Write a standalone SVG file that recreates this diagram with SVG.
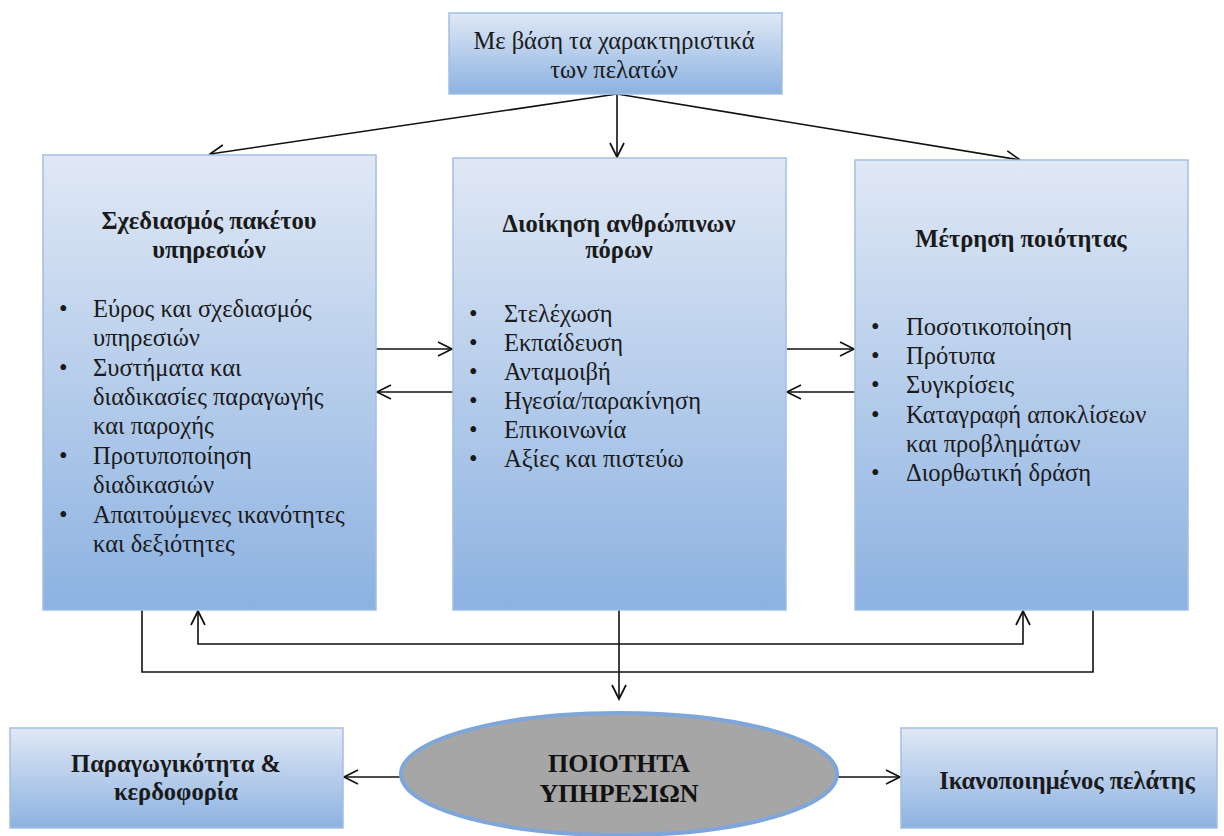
<svg xmlns="http://www.w3.org/2000/svg" width="1224" height="836" viewBox="0 0 1224 836">
  <defs>
    <linearGradient id="boxFill" x1="0" y1="0" x2="0" y2="1">
      <stop offset="0" stop-color="#e0e8f5"/>
      <stop offset="1" stop-color="#8cb2e1"/>
    </linearGradient>
    <marker id="open" markerUnits="userSpaceOnUse" markerWidth="18" markerHeight="18" viewBox="0 0 18 18" refX="15" refY="9" orient="auto-start-reverse">
      <path d="M1,2 L15,9 L1,16" fill="none" stroke="#111" stroke-width="1.7"/>
    </marker>
    <style>
      .box { fill: url(#boxFill); stroke: #a3bfe2; stroke-width: 1.5; }
      .wire { fill: none; stroke: #111; stroke-width: 1.6; }
      .arrow { fill: none; stroke: #111; stroke-width: 1.6; marker-end: url(#open); }
      .txt { font-family: "Liberation Serif", "DejaVu Serif", serif; fill: #1a1a1a; font-size: 24.5px; }
      .head { font-family: "Liberation Serif", "DejaVu Serif", serif; fill: #1a1a1a; font-size: 24.5px; font-weight: bold; text-anchor: middle; }
      .big { font-size: 26px; fill: #111; }
      .mid { text-anchor: middle; }
    </style>
  </defs>

  <rect width="1224" height="836" fill="#ffffff"/>

  <!-- connectors -->
  <g id="connectors">
    <line class="arrow" x1="617" y1="94" x2="210" y2="154"/>
    <line class="arrow" x1="617" y1="94" x2="617" y2="157"/>
    <line class="arrow" x1="617" y1="94" x2="1020" y2="160"/>

    <line class="arrow" x1="376" y1="349" x2="452" y2="349"/>
    <line class="arrow" x1="453" y1="392" x2="377" y2="392"/>
    <line class="arrow" x1="787" y1="349" x2="854" y2="349"/>
    <line class="arrow" x1="855" y1="392" x2="787" y2="392"/>

    <path class="wire" d="M142,610 V672 H1093 V610"/>
    <path class="wire" d="M198,611 V644 H1023 V611" marker-start="url(#open)" marker-end="url(#open)"/>
    <line class="arrow" x1="619" y1="610" x2="619" y2="699"/>

    <line class="arrow" x1="400" y1="777" x2="344" y2="777"/>
    <line class="arrow" x1="838" y1="777" x2="900" y2="777"/>
  </g>

  <!-- customer characteristics -->
  <g id="customers">
    <rect class="box" x="449" y="13" width="333" height="81"/>
    <text class="txt mid" x="614" y="49">Με βάση τα χαρακτηριστικά</text>
    <text class="txt mid" x="614" y="78">των πελατών</text>
  </g>

  <!-- service package design -->
  <g id="service-design">
    <rect class="box" x="43" y="155" width="333" height="455"/>
    <text class="head" x="209" y="229">Σχεδιασμός πακέτου</text>
    <text class="head" x="209" y="258">υπηρεσιών</text>
    <g class="txt">
      <text x="59" y="317">•</text><text x="93" y="317">Εύρος και σχεδιασμός</text>
      <text x="93" y="346">υπηρεσιών</text>
      <text x="59" y="376">•</text><text x="93" y="376">Συστήματα και</text>
      <text x="93" y="405">διαδικασίες παραγωγής</text>
      <text x="93" y="434">και παροχής</text>
      <text x="59" y="464">•</text><text x="93" y="464">Προτυποποίηση</text>
      <text x="93" y="493">διαδικασιών</text>
      <text x="59" y="523">•</text><text x="93" y="523">Απαιτούμενες ικανότητες</text>
      <text x="93" y="552">και δεξιότητες</text>
    </g>
  </g>

  <!-- human resources -->
  <g id="human-resources">
    <rect class="box" x="453" y="158" width="333" height="452"/>
    <text class="head" x="619" y="232">Διοίκηση ανθρώπινων</text>
    <text class="head" x="619" y="258">πόρων</text>
    <g class="txt">
      <text x="469" y="322">•</text><text x="504" y="322">Στελέχωση</text>
      <text x="469" y="351">•</text><text x="504" y="351">Εκπαίδευση</text>
      <text x="469" y="380">•</text><text x="504" y="380">Ανταμοιβή</text>
      <text x="469" y="409">•</text><text x="504" y="409">Ηγεσία/παρακίνηση</text>
      <text x="469" y="438">•</text><text x="504" y="438">Επικοινωνία</text>
      <text x="469" y="467">•</text><text x="504" y="467">Αξίες και πιστεύω</text>
    </g>
  </g>

  <!-- quality measurement -->
  <g id="quality-measurement">
    <rect class="box" x="855" y="160" width="333" height="450"/>
    <text class="head" x="1021" y="247">Μέτρηση ποιότητας</text>
    <g class="txt">
      <text x="871" y="335">•</text><text x="906" y="335">Ποσοτικοποίηση</text>
      <text x="871" y="364">•</text><text x="906" y="364">Πρότυπα</text>
      <text x="871" y="393">•</text><text x="906" y="393">Συγκρίσεις</text>
      <text x="871" y="423">•</text><text x="906" y="423">Καταγραφή αποκλίσεων</text>
      <text x="906" y="452">και προβλημάτων</text>
      <text x="871" y="481">•</text><text x="906" y="481">Διορθωτική δράση</text>
    </g>
  </g>

  <!-- productivity -->
  <g id="productivity">
    <rect class="box" x="10" y="728" width="333" height="100"/>
    <text class="head" x="176" y="772">Παραγωγικότητα &amp;</text>
    <text class="head" x="176" y="800">κερδοφορία</text>
  </g>

  <!-- service quality -->
  <g id="service-quality">
    <ellipse cx="619" cy="774" rx="218" ry="61" fill="#a6a6a6" stroke="#7ea6da" stroke-width="4"/>
    <text class="head big" x="619" y="772">ΠΟΙΟΤΗΤΑ</text>
    <text class="head big" x="619" y="802">ΥΠΗΡΕΣΙΩΝ</text>
  </g>

  <!-- satisfied customer -->
  <g id="satisfied-customer">
    <rect class="box" x="901" y="728" width="316" height="100"/>
    <text class="head" x="1067" y="789">Ικανοποιημένος πελάτης</text>
  </g>
</svg>
